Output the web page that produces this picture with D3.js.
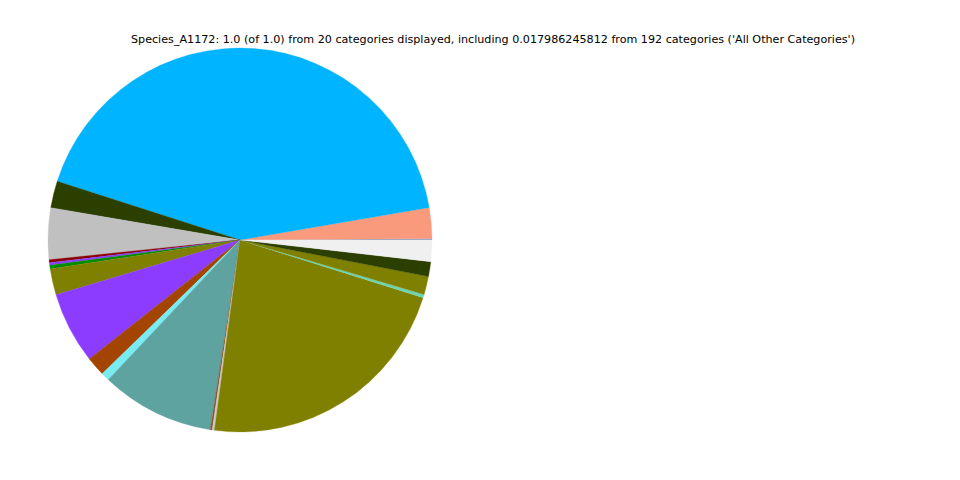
<!DOCTYPE html>
<html>
<head>
<meta charset="utf-8">
<script src="https://cdn.jsdelivr.net/npm/d3@7"></script>
<style>
  html, body { margin: 0; padding: 0; background: #fff; }
  svg { display: block; }
</style>
</head>
<body>
<svg id="chart" width="960" height="480"></svg>
<script>
const titleText = "Species_A1172: 1.0 (of 1.0) from 20 categories displayed, including 0.017986245812 from 192 categories ('All Other Categories')";
const categories = ["Cat01","Cat02","Cat03","Cat04","Cat05","Cat06","Cat07","Cat08","Cat09","Cat10",
                    "Cat11","Cat12","Cat13","Cat14","Cat15","Cat16","Cat17","Cat18","Cat19","All Other Categories"];
const values = [0.00125, 0.0258, 0.4233, 0.0225, 0.0433, 0.0025, 0.0021, 0.0031, 0.0220, 0.0602,
                0.0162, 0.0071, 0.0955, 0.0017, 0.0019, 0.2225, 0.0028, 0.0153, 0.0125, 0.017986245812];
const colors = ["#8fa0c0","#f99a7d","#00b4ff","#2b4000","#c0c0c0","#8b0000","#8a40ff","#008c00","#808000","#8c3cff",
                "#a34400","#78ecf2","#5fa3a0","#8b5a2b","#c8c8c8","#808000","#6fd4b0","#808000","#2b4000","#f0f0f0"];

const svg = d3.select("#chart");
const cx = 240, cy = 240, r = 192;

const pie = d3.pie().value(d => d.v).sort(null)
  .startAngle(Math.PI / 2).endAngle(Math.PI / 2 - 2 * Math.PI);
const data = categories.map((c, i) => ({ c, v: values[i], col: colors[i] }));
const arc = d3.arc().innerRadius(0).outerRadius(r);

svg.append("g").attr("transform", `translate(${cx},${cy})`)
  .selectAll("path").data(pie(data)).enter().append("path")
  .attr("d", arc)
  .attr("fill", d => d.data.col)
  .attr("stroke", d => d.data.col)
  .attr("stroke-width", 0.3);

svg.append("text")
  .attr("x", 493).attr("y", 43)
  .attr("text-anchor", "middle")
  .attr("font-family", "DejaVu Sans")
  .attr("font-size", 11.15)
  .attr("fill", "#000")
  .text(titleText);
</script>
</body>
</html>
